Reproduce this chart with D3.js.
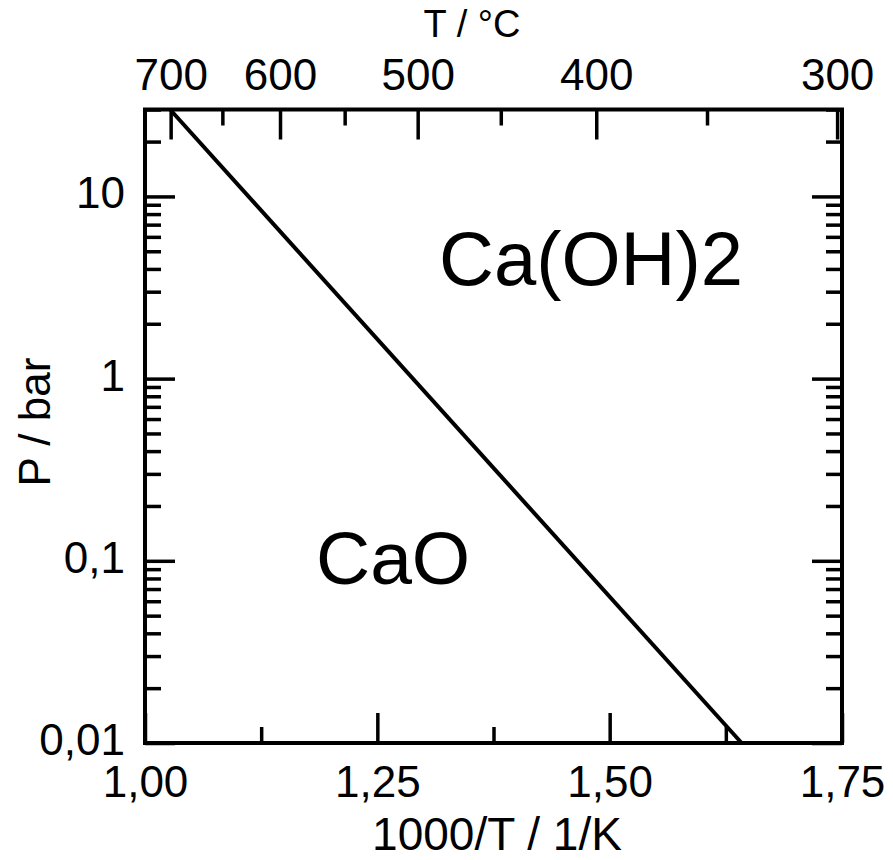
<!DOCTYPE html>
<html>
<head>
<meta charset="utf-8">
<script src="https://cdn.jsdelivr.net/npm/d3@7"></script>
<style>
  body { margin: 0; background: #fff; }
  text { font-family: "Liberation Sans", Arial, sans-serif; fill: #000; }
</style>
</head>
<body>
<div id="chart"></div>
<script>
// equilibrium line CaO / Ca(OH)2
const invT = [1.027, 1.642]      // 1000/T in 1/K
const pEq = [30, 0.01]           // P in bar

const xMajor = [1.00, 1.25, 1.50, 1.75]
const xMinor = [1.125, 1.375, 1.625]
const pMajor = [0.01, 0.1, 1, 10]
const tMajor = [700, 600, 500, 400, 300]   // °C
const tMinor = [650, 550, 450, 350]

const width = 893
const height = 860
const plotLeft = 145, plotRight = 842, plotTop = 109.5, plotBottom = 743
const major = 30, minor = 16

// comma as decimal separator
const locale = d3.formatLocale({decimal: ",", thousands: ".", grouping: [3], currency: ["", ""]})
const fmtX = locale.format(".2f")
const fmtY = locale.format("~g")

const svg = d3.select("#chart")
    .append("svg")
    .attr("width", width)
    .attr("height", height)

const x = d3.scaleLinear().domain([1.00, 1.75]).range([plotLeft, plotRight])
const y = d3.scaleLog().domain([0.01, 30]).range([plotBottom, plotTop])

const toInvT = t => 1000 / (t + 273.15)
const pMinor = y.ticks().filter(d => !pMajor.some(m => Math.abs(m - d) < 1e-9))

function styleAxis(g, size) {
    g.select(".domain").remove()
    g.selectAll(".tick line").attr("stroke", "#000").attr("stroke-width", 3.5)
    g.selectAll(".tick text").style("font-size", size + "px").attr("fill", "#000")
}

// bottom axis
svg.append("g")
    .attr("transform", `translate(0, ${plotBottom})`)
    .call(d3.axisBottom(x).tickValues(xMajor).tickSize(-major).tickPadding(23).tickFormat(fmtX))
    .call(g => styleAxis(g, 44))
svg.append("g")
    .attr("transform", `translate(0, ${plotBottom})`)
    .call(d3.axisBottom(x).tickValues(xMinor).tickSize(-minor).tickFormat(""))
    .call(g => styleAxis(g, 44))

// top axis in °C
svg.append("g")
    .attr("transform", `translate(0, ${plotTop})`)
    .call(d3.axisTop(x).tickValues(tMajor.map(toInvT)).tickSize(-major).tickPadding(20)
        .tickFormat((d, i) => tMajor[i]))
    .call(g => styleAxis(g, 44))
svg.append("g")
    .attr("transform", `translate(0, ${plotTop})`)
    .call(d3.axisTop(x).tickValues(tMinor.map(toInvT)).tickSize(-minor).tickFormat(""))
    .call(g => styleAxis(g, 44))

// left axis
svg.append("g")
    .attr("transform", `translate(${plotLeft}, 0)`)
    .call(d3.axisLeft(y).tickValues(pMajor).tickSize(-major).tickPadding(20).tickFormat(fmtY))
    .call(g => styleAxis(g, 44))
    .call(g => g.selectAll(".tick text").attr("dy", "0.26em"))
svg.append("g")
    .attr("transform", `translate(${plotLeft}, 0)`)
    .call(d3.axisLeft(y).tickValues(pMinor).tickSize(-minor).tickFormat(""))
    .call(g => styleAxis(g, 44))

// right axis, ticks only
svg.append("g")
    .attr("transform", `translate(${plotRight}, 0)`)
    .call(d3.axisRight(y).tickValues(pMajor).tickSize(-major).tickFormat(""))
    .call(g => styleAxis(g, 44))
svg.append("g")
    .attr("transform", `translate(${plotRight}, 0)`)
    .call(d3.axisRight(y).tickValues(pMinor).tickSize(-minor).tickFormat(""))
    .call(g => styleAxis(g, 44))

// frame
svg.append("rect")
    .attr("x", plotLeft)
    .attr("y", plotTop)
    .attr("width", plotRight - plotLeft)
    .attr("height", plotBottom - plotTop)
    .attr("fill", "none")
    .attr("stroke", "#000")
    .attr("stroke-width", 4)

// equilibrium line
const line = d3.line()
    .x((d, i) => x(invT[i]))
    .y(d => y(d))
svg.append("path")
    .attr("d", line(pEq))
    .attr("fill", "none")
    .attr("stroke", "#000")
    .attr("stroke-width", 4)

// phase labels
svg.append("text")
    .attr("x", 439).attr("y", 285)
    .style("font-size", "76px")
    .text("Ca(OH)2")
svg.append("text")
    .attr("x", 316).attr("y", 584)
    .style("font-size", "75px")
    .text("CaO")

// axis titles
svg.append("text")
    .attr("x", 472).attr("y", 37)
    .attr("text-anchor", "middle")
    .style("font-size", "38px")
    .text("T / °C")
svg.append("text")
    .attr("x", 497).attr("y", 850)
    .attr("text-anchor", "middle")
    .style("font-size", "46px")
    .text("1000/T / 1/K")
svg.append("text")
    .attr("transform", "translate(50, 422) rotate(-90)")
    .attr("text-anchor", "middle")
    .style("font-size", "44px")
    .text("P / bar")
</script>
</body>
</html>
